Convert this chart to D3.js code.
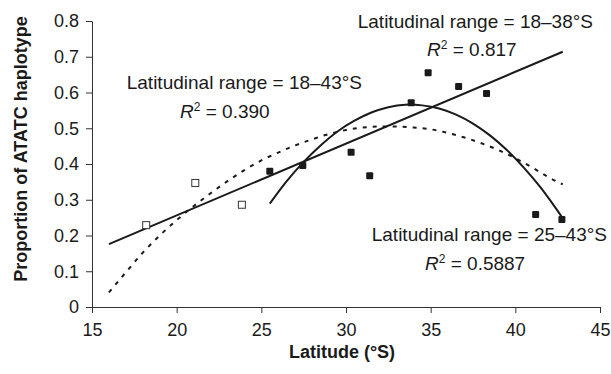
<!DOCTYPE html>
<html>
<head>
<meta charset="utf-8">
<script src="https://cdn.jsdelivr.net/npm/d3@7"></script>
<style>
  body { margin: 0; background: #fff; }
  svg text { font-family: "Liberation Sans", Arial, sans-serif; fill: #1a1a1a; }
</style>
</head>
<body>
<svg id="chart"></svg>
<script>
// Observed proportions, 18-25°S (open) and 25-43°S (filled)
const openLat = [18.2, 21.1, 23.85];
const openProp = [0.229, 0.347, 0.286];
const filledLat = [25.5, 27.45, 30.3, 31.4, 33.85, 34.85, 36.65, 38.3, 41.2, 42.75];
const filledProp = [0.38, 0.396, 0.433, 0.367, 0.571, 0.655, 0.617, 0.597, 0.259, 0.245];

// Trend lines
const linearLat = [16, 42.8];
const linearProp = [0.176, 0.714];
const quadLat = [25.5, 26.5, 27.5, 28.5, 29.5, 30.5, 31.5, 32.5, 33.5, 34.5, 35.5, 36.5, 37.5, 38.5, 39.5, 40.5, 41.5, 42.5, 42.8];
const quadProp = [0.289, 0.352, 0.406, 0.452, 0.491, 0.521, 0.544, 0.559, 0.566, 0.564, 0.555, 0.538, 0.513, 0.48, 0.439, 0.39, 0.334, 0.269, 0.248];
const dashLat = [16, 17, 18, 19, 20, 21, 22, 23, 24, 25, 26, 27, 28, 29, 30, 31, 32, 33, 34, 35, 36, 37, 38, 39, 40, 41, 42, 42.8];
const dashProp = [0.041, 0.097, 0.152, 0.2, 0.243, 0.282, 0.318, 0.352, 0.383, 0.41, 0.432, 0.452, 0.469, 0.484, 0.495, 0.502, 0.505, 0.505, 0.502, 0.497, 0.487, 0.474, 0.458, 0.439, 0.416, 0.39, 0.362, 0.343];

const xTicks = [15, 20, 25, 30, 35, 40, 45];
const yTicks = [0, 0.1, 0.2, 0.3, 0.4, 0.5, 0.6, 0.7, 0.8];

const W = 611, H = 374;
const svg = d3.select("#chart").attr("width", W).attr("height", H);

const x = d3.scaleLinear().domain([15, 45]).range([92, 600]);
const y = d3.scaleLinear().domain([0, 0.8]).range([307, 21]);

const ink = "#1a1a1a";

// axes
const xAxis = svg.append("g")
  .attr("transform", `translate(0,${y(0)})`)
  .call(d3.axisBottom(x).tickValues(xTicks).tickSize(6).tickSizeOuter(0).tickPadding(10).tickFormat(d3.format("d")));
const yAxis = svg.append("g")
  .attr("transform", `translate(${x(15)},0)`)
  .call(d3.axisLeft(y).tickValues(yTicks).tickSize(6).tickSizeOuter(0).tickPadding(7).tickFormat(d => d === 0 ? "0" : d3.format(".1f")(d)));
[xAxis, yAxis].forEach(g => {
  g.selectAll("path, line").attr("stroke", "#333").attr("stroke-width", 1);
  g.selectAll("text").style("font-size", "18px").attr("fill", ink);
});

// trend lines
const line = d3.line().x(d => x(d[0])).y(d => y(d[1]));
svg.append("path")
  .datum(d3.zip(dashLat, dashProp))
  .attr("d", line.curve(d3.curveMonotoneX))
  .attr("fill", "none").attr("stroke", ink).attr("stroke-width", 2)
  .attr("stroke-dasharray", "4,6");
svg.append("path")
  .datum(d3.zip(linearLat, linearProp))
  .attr("d", line.curve(d3.curveLinear))
  .attr("fill", "none").attr("stroke", ink).attr("stroke-width", 2);
svg.append("path")
  .datum(d3.zip(quadLat, quadProp))
  .attr("d", line.curve(d3.curveCatmullRom))
  .attr("fill", "none").attr("stroke", ink).attr("stroke-width", 2);

// points
const s = 7;
svg.selectAll(".open").data(d3.zip(openLat, openProp)).enter().append("rect")
  .attr("class", "open")
  .attr("x", d => x(d[0]) - s / 2).attr("y", d => y(d[1]) - s / 2)
  .attr("width", s).attr("height", s)
  .attr("fill", "#fff").attr("stroke", "#333").attr("stroke-width", 1);
svg.selectAll(".filled").data(d3.zip(filledLat, filledProp)).enter().append("rect")
  .attr("class", "filled")
  .attr("x", d => x(d[0]) - s / 2).attr("y", d => y(d[1]) - s / 2)
  .attr("width", s).attr("height", s).attr("rx", 1)
  .attr("fill", ink);

// axis titles
svg.append("text")
  .attr("x", 342).attr("y", 358)
  .attr("text-anchor", "middle")
  .style("font-size", "18px").style("font-weight", "bold")
  .text("Latitude (°S)");
svg.append("text")
  .attr("transform", "translate(27,149) rotate(-90)")
  .attr("text-anchor", "middle")
  .style("font-size", "18px").style("font-weight", "bold")
  .text("Proportion of ATATC haplotype");

// annotations
function note(xEnd, yBase, label, rx, ry, r2) {
  svg.append("text").attr("x", xEnd).attr("y", yBase)
    .attr("text-anchor", "end").style("font-size", "19px").text(label);
  const t = svg.append("text").attr("x", rx).attr("y", ry).style("font-size", "19px");
  t.append("tspan").style("font-style", "italic").text("R");
  t.append("tspan").attr("dy", -7).style("font-size", "12px").text("2");
  t.append("tspan").attr("dy", 7).text(" = " + r2);
}
note(593, 28, "Latitudinal range = 18–38°S", 427, 56, "0.817");
note(362, 89, "Latitudinal range = 18–43°S", 180, 118, "0.390");
note(607, 241, "Latitudinal range = 25–43°S", 425, 270, "0.5887");
</script>
</body>
</html>
